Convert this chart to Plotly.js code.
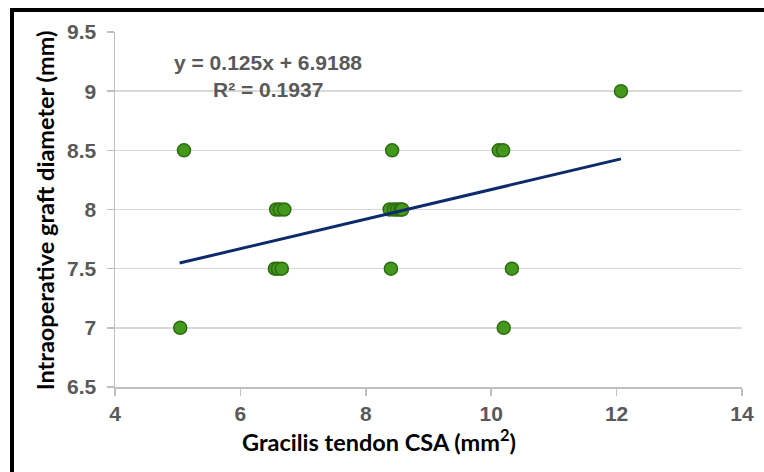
<!DOCTYPE html>
<html>
<head>
<meta charset="utf-8">
<script src="https://cdn.plot.ly/plotly-3.0.1.min.js"></script>
<style>
  html, body { margin: 0; padding: 0; background: #fff; }
  #wrap { position: relative; width: 764px; height: 472px; }
  #chart { width: 764px; height: 472px; }
  #frame { position: absolute; left: 10px; top: 8px; width: 760px; height: 470px;
           border-top: 4px solid #000; border-left: 4px solid #000; pointer-events: none; }
</style>
</head>
<body>
<div id="wrap">
  <div id="chart"></div>
  <div id="frame"></div>
</div>
<script>
// Gracilis tendon CSA (mm^2)
const csa = [5.10, 5.04, 6.57, 6.63, 6.70, 6.55, 6.60, 6.66, 8.42, 10.12, 10.19, 12.07,
             8.38, 8.45, 8.50, 8.55, 8.58, 8.40, 10.33, 10.20];
// Intraoperative graft diameter (mm)
const diameter = [8.5, 7.0, 8.0, 8.0, 8.0, 7.5, 7.5, 7.5, 8.5, 8.5, 8.5, 9.0,
                  8.0, 8.0, 8.0, 8.0, 8.0, 7.5, 7.5, 7.0];
// Linear trendline reported in the chart
const slope = 0.125;
const intercept = 6.9188;
const rSquared = 0.1937;
const trendX = [5.03, 12.07];
const trendY = trendX.map(v => slope * v + intercept);

const xTicks = [4, 6, 8, 10, 12, 14];
const yTicks = [6.5, 7, 7.5, 8, 8.5, 9, 9.5];

const tickFont = { family: 'Arial, "Liberation Sans", sans-serif', size: 21, color: '#595959', weight: 'bold' };
const titleFont = { family: 'Lato, "Open Sans", sans-serif', size: 23.5, color: '#000000', weight: 'bold' };
const eqFont = { family: 'Arial, "Liberation Sans", sans-serif', size: 21, color: '#595959', weight: 'bold' };

const traces = [
  {
    x: csa, y: diameter, type: 'scatter', mode: 'markers',
    marker: { size: 13, color: '#44991c', line: { color: '#2d6b10', width: 1.5 } },
    hoverinfo: 'x+y', showlegend: false
  },
  {
    x: trendX, y: trendY, type: 'scatter', mode: 'lines',
    line: { color: '#0d2a6b', width: 3 }, showlegend: false, hoverinfo: 'skip'
  }
];

const layout = {
  width: 764, height: 472,
  margin: { l: 115, r: 22, t: 32, b: 85 },
  paper_bgcolor: '#ffffff', plot_bgcolor: '#ffffff',
  xaxis: {
    range: [4, 14], tickvals: xTicks, ticktext: xTicks.map(String),
    showgrid: false, zeroline: false,
    showline: true, linecolor: '#bfbfbf', linewidth: 1.5,
    ticks: 'outside', ticklen: 7, tickcolor: '#bfbfbf', tickwidth: 1.5,
    tickfont: tickFont
  },
  yaxis: {
    range: [6.5, 9.5], tickvals: yTicks, ticktext: yTicks.map(String),
    showgrid: true, gridcolor: '#d9d9d9', gridwidth: 1.5, zeroline: false,
    showline: true, linecolor: '#bfbfbf', linewidth: 1.5,
    ticks: 'outside', ticklen: 7, tickcolor: '#bfbfbf', tickwidth: 1.5,
    ticklabelstandoff: 6,
    tickfont: tickFont
  },
  annotations: [
    { text: 'Gracilis tendon CSA (mm<sup>2</sup>)', xref: 'paper', yref: 'paper',
      x: 0.421, y: -0.152, xanchor: 'center', yanchor: 'middle', showarrow: false, font: titleFont },
    { text: 'Intraoperative graft diameter (mm)', xref: 'paper', yref: 'paper',
      x: -0.112, y: 0.497, xanchor: 'center', yanchor: 'middle', textangle: -90, showarrow: false, font: titleFont },
    { text: 'y = ' + slope + 'x + ' + intercept, xref: 'paper', yref: 'paper',
      x: 0.244, y: 0.913, xanchor: 'center', yanchor: 'middle', showarrow: false, font: eqFont },
    { text: 'R² = ' + rSquared, xref: 'paper', yref: 'paper',
      x: 0.244, y: 0.837, xanchor: 'center', yanchor: 'middle', showarrow: false, font: eqFont }
  ]
};

Plotly.newPlot('chart', traces, layout, { displayModeBar: false, staticPlot: true });
</script>
</body>
</html>
